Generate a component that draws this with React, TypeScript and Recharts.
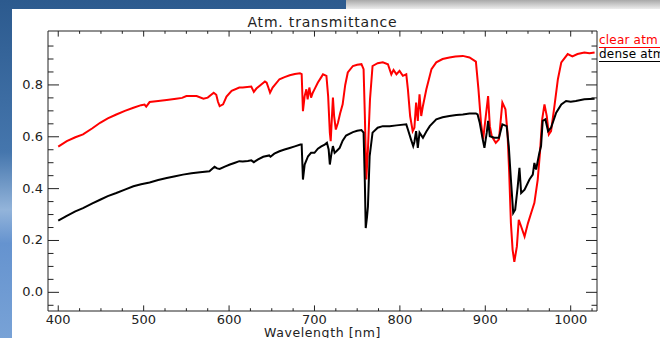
import React from 'react'
import { LineChart, Line, XAxis, YAxis, ReferenceArea, Legend } from 'recharts'

const WIDTH = 660
const HEIGHT = 338
const MARGIN = { top: 31, right: 63, left: 0, bottom: 0 }
const PLOT_TOP = MARGIN.top
const PLOT_RIGHT = WIDTH - MARGIN.right
const AXIS = '#222'
const FONT = '"DejaVu Sans", sans-serif'

const X_DOMAIN: [number, number] = [388, 1030.8]
const Y_DOMAIN: [number, number] = [-0.072, 1.008]

// clear atmosphere (red)
const clearWavelength = [
  400, 410, 420, 429, 440, 449, 458, 468, 478, 488, 497, 501, 503, 507, 517, 527, 538, 545, 550, 562,
  570, 575, 582, 585, 587, 589, 593, 597, 603, 612, 616, 626, 628, 629, 632, 637, 642, 644, 646, 648,
  651, 659, 665, 671, 677, 683, 685, 686.5, 688.5, 690.5, 692, 694, 696, 698, 700, 704, 708, 710, 714, 716,
  718, 719, 720.5, 721.6, 723, 725, 727.5, 730, 733, 736, 739, 745, 750, 755, 757.5, 759, 760.7, 762.6, 765, 768,
  774, 780, 786, 790, 792.6, 796, 799.6, 803.5, 807.5, 809.4, 812, 815, 817, 819, 821, 823, 825, 827, 831, 837,
  842.6, 850, 858, 865, 873.7, 881.5, 889, 892, 895, 897.5, 900.6, 903.3, 905.3, 907.6, 912.3, 916, 920, 923.6, 926, 928,
  930, 932, 934, 937, 939.2, 942, 946, 950, 953.7, 957.5, 961.4, 964, 966.6, 969.3, 972, 974.4, 977, 981, 985, 989,
  996.5, 1002, 1008, 1016, 1022, 1028,
]
const clearTransmittance = [
  0.562, 0.583, 0.598, 0.609, 0.633, 0.654, 0.671, 0.686, 0.7, 0.712, 0.722, 0.724, 0.716, 0.734, 0.738, 0.742, 0.747, 0.75, 0.757, 0.757,
  0.747, 0.751, 0.77, 0.762, 0.735, 0.718, 0.725, 0.755, 0.777, 0.79, 0.79, 0.794, 0.78, 0.773, 0.786, 0.8, 0.813, 0.809, 0.79, 0.77,
  0.79, 0.822, 0.83, 0.837, 0.842, 0.845, 0.842, 0.699, 0.757, 0.783, 0.744, 0.79, 0.751, 0.77, 0.783, 0.809, 0.83, 0.841, 0.835, 0.757,
  0.616, 0.583, 0.68, 0.751, 0.68, 0.628, 0.654, 0.69, 0.725, 0.8, 0.848, 0.873, 0.878, 0.88, 0.861, 0.68, 0.435, 0.551, 0.744, 0.873,
  0.884, 0.887, 0.88, 0.841, 0.858, 0.841, 0.854, 0.835, 0.841, 0.783, 0.68, 0.622, 0.635, 0.732, 0.661, 0.764, 0.68, 0.719, 0.783, 0.861,
  0.887, 0.9, 0.906, 0.91, 0.912, 0.906, 0.89, 0.783, 0.654, 0.59, 0.68, 0.757, 0.641, 0.602, 0.577, 0.59, 0.732, 0.706, 0.616, 0.461,
  0.267, 0.164, 0.118, 0.177, 0.28, 0.254, 0.215, 0.267, 0.306, 0.345, 0.435, 0.538, 0.667, 0.725, 0.68, 0.609, 0.622, 0.719, 0.822, 0.887,
  0.919, 0.91, 0.919, 0.925, 0.922, 0.925,
]

// dense atmosphere (black)
const denseWavelength = [
  400, 410, 420, 429, 440, 449, 458, 468, 478, 488, 497, 507, 517, 527, 537, 546, 556, 566, 577, 583,
  586, 589, 595, 601, 607, 612, 616, 622, 626, 629, 634, 640, 647, 648.5, 653, 659, 665, 671, 677, 683.5,
  685, 686.5, 688.5, 692.5, 696, 700, 704, 708, 712, 714.6, 716.6, 718, 720, 721.6, 723.6, 726, 729.5, 733, 737, 745,
  750, 755, 757.5, 759, 760, 761.5, 762.6, 764.6, 768, 774, 780, 788, 796, 807.5, 809.4, 813, 815.6, 817, 819, 821,
  823, 827, 831, 835, 842.6, 850, 858, 866, 873.7, 881.5, 889, 891, 893.5, 897, 899, 901.7, 903.3, 905.3, 910.5, 916,
  920, 925, 927.5, 930, 932.7, 935, 938, 940, 942, 946, 951.7, 955.6, 957.5, 959.5, 963.3, 965.3, 967.2, 970.4, 973.5, 977,
  983, 989, 994.6, 1000, 1006, 1016, 1028,
]
const denseTransmittance = [
  0.277, 0.295, 0.312, 0.325, 0.343, 0.357, 0.371, 0.383, 0.396, 0.409, 0.417, 0.424, 0.433, 0.441, 0.448, 0.454, 0.459, 0.463, 0.467, 0.484,
  0.478, 0.476, 0.485, 0.493, 0.5, 0.506, 0.505, 0.507, 0.509, 0.502, 0.513, 0.523, 0.528, 0.523, 0.535, 0.544, 0.551, 0.557, 0.563, 0.57,
  0.57, 0.435, 0.493, 0.525, 0.538, 0.538, 0.554, 0.563, 0.57, 0.577, 0.551, 0.493, 0.538, 0.564, 0.538, 0.545, 0.557, 0.585, 0.605, 0.618,
  0.623, 0.626, 0.616, 0.422, 0.248, 0.29, 0.331, 0.525, 0.616, 0.635, 0.641, 0.641, 0.644, 0.648, 0.628, 0.59, 0.564, 0.58, 0.622, 0.557,
  0.616, 0.596, 0.62, 0.641, 0.667, 0.675, 0.68, 0.684, 0.686, 0.69, 0.69, 0.686, 0.654, 0.59, 0.557, 0.616, 0.661, 0.602, 0.596, 0.596,
  0.648, 0.641, 0.564, 0.435, 0.306, 0.319, 0.409, 0.48, 0.383, 0.396, 0.435, 0.454, 0.499, 0.474, 0.538, 0.564, 0.661, 0.667, 0.622, 0.635,
  0.693, 0.725, 0.738, 0.735, 0.738, 0.745, 0.747,
]

const xTickLabels = [400, 500, 600, 700, 800, 900, 1000]
const yTickLabels = ['0.0', '0.2', '0.4', '0.6', '0.8']
const xTicks = Array.from({ length: 26 }, (_, i) => 400 + 25 * i)
const yTicks = Array.from({ length: 21 }, (_, i) => Math.round((-0.05 + 0.05 * i) * 100) / 100)

const clearSeries = clearWavelength.map((wl, i) => ({ wl, t: clearTransmittance[i] }))
const denseSeries = denseWavelength.map((wl, i) => ({ wl, t: denseTransmittance[i] }))

function XTick({ x, y, payload }: any) {
  const v = payload.value
  const major = xTickLabels.includes(v)
  const len = major ? 5.6 : 2.8
  return (
    <g>
      <line x1={x} x2={x} y1={y} y2={y - len} stroke={AXIS} />
      <line x1={x} x2={x} y1={PLOT_TOP} y2={PLOT_TOP + len} stroke={AXIS} />
      {major && (
        <text x={x} y={y + 12.5} textAnchor="middle" fontSize={13} fontFamily={FONT} fill={AXIS}>
          {v}
        </text>
      )}
    </g>
  )
}

function YTick({ x, y, payload }: any) {
  const v = payload.value
  const label = yTickLabels.find((l) => Math.abs(parseFloat(l) - v) < 1e-6)
  const len = label ? 11 : 5.5
  return (
    <g>
      <line x1={x} x2={x + len} y1={y} y2={y} stroke={AXIS} />
      <line x1={PLOT_RIGHT} x2={PLOT_RIGHT - len} y1={y} y2={y} stroke={AXIS} />
      {label && (
        <text x={x - 5} y={y + 4} textAnchor="end" fontSize={13} fontFamily={FONT} fill={AXIS}>
          {label}
        </text>
      )}
    </g>
  )
}

function LegendBox({ payload }: any) {
  return (
    <div style={{ fontFamily: FONT, fontSize: 12, letterSpacing: 0.2 }}>
      {(payload || []).map((p: any) => (
        <div
          key={p.value}
          style={{ color: p.color, lineHeight: '13px', borderBottom: `1px solid ${p.color}`, whiteSpace: 'nowrap' }}
        >
          {p.value}
        </div>
      ))}
    </div>
  )
}

export default function App() {
  return (
    <div
      style={{
        position: 'absolute',
        left: 0,
        top: 0,
        width: WIDTH,
        height: HEIGHT,
        overflow: 'hidden',
        background: 'linear-gradient(to bottom, #2c5a8e 0%, #4576ad 45%, #93b4da 62%, #6593cf 72%, #78a2d6 100%)',
      }}
    >
      <div
        style={{
          position: 'absolute',
          left: 346,
          top: 0,
          width: WIDTH - 346,
          height: 9,
          background: 'linear-gradient(to bottom, #a9a9a9, #ececec)',
        }}
      />
      <div style={{ position: 'absolute', left: 12, top: 9, right: 0, bottom: 0, background: '#fff' }} />
      <div style={{ position: 'absolute', left: 0, top: 0 }}>
        <LineChart width={WIDTH} height={HEIGHT} margin={MARGIN}>
          <XAxis
            dataKey="wl"
            type="number"
            domain={X_DOMAIN}
            ticks={xTicks}
            interval={0}
            allowDataOverflow
            height={27}
            axisLine={false}
            tickLine={false}
            tickSize={0}
            tickMargin={0}
            tick={<XTick />}
            label={{
              value: 'Wavelength [nm]',
              position: 'insideBottom',
              offset: 1,
              style: { fontFamily: FONT, fontSize: 12.5, letterSpacing: 0.6, fill: AXIS },
            }}
          />
          <YAxis
            type="number"
            domain={Y_DOMAIN}
            ticks={yTicks}
            interval={0}
            allowDataOverflow
            width={48}
            axisLine={false}
            tickLine={false}
            tickSize={0}
            tickMargin={0}
            tick={<YTick />}
          />
          <ReferenceArea
            x1={X_DOMAIN[0]}
            x2={X_DOMAIN[1]}
            y1={Y_DOMAIN[0]}
            y2={Y_DOMAIN[1]}
            fill="none"
            stroke={AXIS}
            strokeWidth={1}
            label={{
              value: 'Atm. transmittance',
              position: 'top',
              offset: 4.5,
              style: { fontFamily: FONT, fontSize: 14, letterSpacing: 0.8, fill: AXIS },
            }}
          />
          <Line
            data={clearSeries}
            dataKey="t"
            name="clear atm"
            type="linear"
            stroke="#ff0000"
            strokeWidth={2}
            dot={false}
            isAnimationActive={false}
          />
          <Line
            data={denseSeries}
            dataKey="t"
            name="dense atm"
            type="linear"
            stroke="#000000"
            strokeWidth={2}
            dot={false}
            isAnimationActive={false}
          />
          <Legend
            layout="horizontal"
            verticalAlign="middle"
            align="center"
            content={<LegendBox />}
            wrapperStyle={{ left: 599, top: 34, width: 80 }}
          />
        </LineChart>
      </div>
    </div>
  )
}
